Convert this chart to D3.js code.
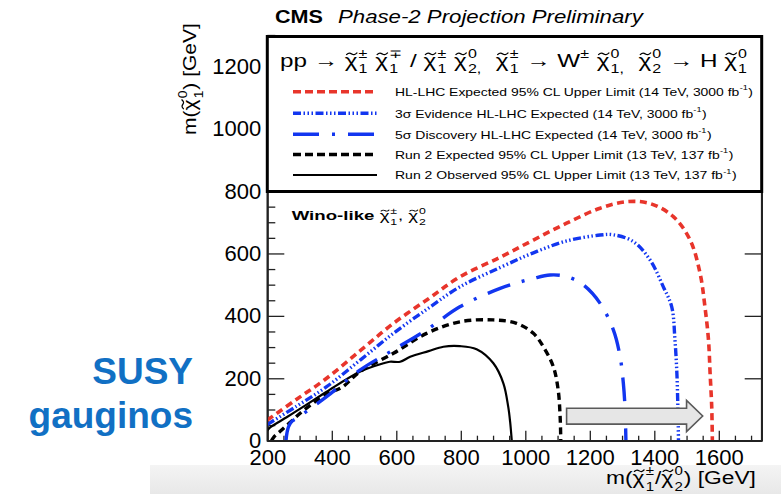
<!DOCTYPE html>
<html><head><meta charset="utf-8">
<script src="https://cdn.jsdelivr.net/npm/d3@7/dist/d3.min.js"></script>
<style>
body{margin:0;background:#fff}
svg{display:block}
text{font-family:"Liberation Sans",Arial,Helvetica,sans-serif;fill:#000;white-space:pre}
</style>
</head><body>
<svg id="chart" width="781" height="494"></svg>
<script>
// ---------------- data ----------------
const xTickValues = [200, 400, 600, 800, 1000, 1200, 1400, 1600];
const xTickLabels = ["200", "400", "600", "800", "1000", "1200", "1400", "1600"];
const yTickValues = [0, 200, 400, 600, 800, 1000, 1200];
const yTickLabels = ["0", "200", "400", "600", "800", "1000", "1200"];

// HL-LHC expected 95% CL (red dashed)
const hlX = [200, 290, 384, 490, 591, 700, 797, 922, 1025, 1128, 1232, 1314, 1387, 1459, 1511, 1542, 1557, 1568, 1573, 1578, 1580];
const hlY = [66, 132, 200, 290, 376, 455, 525, 588, 643, 697, 745, 766, 760, 718, 643, 536, 429, 323, 216, 109, 0];
// 3 sigma evidence (blue dash-dot-dot)
const ev3X = [200, 290, 384, 490, 591, 700, 797, 922, 1025, 1128, 1232, 1272, 1335, 1387, 1428, 1454, 1464, 1470, 1473, 1475];
const ev3Y = [52, 110, 173, 260, 344, 425, 493, 555, 602, 640, 659, 660, 638, 579, 493, 429, 323, 216, 109, 0];
// 5 sigma discovery (blue long dash-dot)
const dis5X = [258, 261, 266, 276, 291, 384, 487, 591, 694, 797, 922, 1025, 1077, 1128, 1180, 1232, 1273, 1294, 1304, 1309, 1312];
const dis5Y = [0, 25, 45, 62, 72, 141, 226, 291, 355, 429, 488, 520, 531, 526, 499, 440, 355, 269, 184, 109, 0];
// Run 2 expected (black dashed)
const expX = [213, 222, 240, 270, 310, 384, 430, 487, 591, 694, 797, 901, 973, 1025, 1056, 1087, 1102, 1108, 1110];
const expY = [0, 14, 30, 58, 95, 150, 170, 221, 280, 344, 381, 387, 376, 344, 301, 237, 162, 77, 0];
// Run 2 observed (black solid)
const obsX = [200, 208, 260, 312, 384, 487, 560, 580, 612, 643, 700, 746, 797, 849, 901, 932, 947, 953, 958];
const obsY = [32, 42, 75, 109, 157, 221, 248, 253, 253, 269, 287, 301, 303, 293, 248, 184, 109, 60, 0];

// projection arrow (annotation, in data units)
const arrowX = [1128, 1500, 1500, 1550, 1500, 1500, 1128];
const arrowY = [53, 53, 29, 79, 129, 104, 104];

const legendLabels = [
  "HL-LHC Expected 95% CL Upper Limit (14 TeV, 3000 fb",
  "3σ Evidence HL-LHC Expected (14 TeV, 3000 fb",
  "5σ Discovery HL-LHC Expected (14 TeV, 3000 fb",
  "Run 2 Expected 95% CL Upper Limit (13 TeV, 137 fb",
  "Run 2 Observed 95% CL Upper Limit (13 TeV, 137 fb"
];

// ---------------- layout ----------------
const svg = d3.select("#chart");
const L = 267.3, R = 761.7, T = 35, B = 440.7;
const x = d3.scaleLinear().domain([200, 1733]).range([L, R]);
const y = d3.scaleLinear().domain([0, 1300]).range([B, T]);

// rich text helper: parts are strings, {t,bold,italic}, {chi:true}, {sup,sub}
function rich(parent, parts, fs, base) {
  base = base || {};
  const g = parent.append("g");
  let cx = 0;
  parts.forEach(p => {
    if (typeof p === "string") p = {t: p};
    if (p.t !== undefined) {
      const t = g.append("text").attr("x", cx).attr("y", 0).attr("font-size", fs)
        .attr("xml:space", "preserve")
        .attr("font-weight", (p.bold ?? base.bold) ? "bold" : "normal")
        .attr("font-style", (p.italic ?? base.italic) ? "italic" : "normal")
        .text(p.t);
      cx += t.node().getComputedTextLength();
    } else if (p.chi) {
      const t = g.append("text").attr("x", cx).attr("y", 0).attr("font-size", fs).text("χ");
      const w = t.node().getComputedTextLength();
      const e = fs, tw = 0.42 * e, x0 = cx + w / 2 - tw / 2 + 0.03 * e, y0 = -0.66 * e;
      const tilde = d3.path();
      tilde.moveTo(x0, y0);
      tilde.bezierCurveTo(x0 + tw * 0.2, y0 - 0.11 * e, x0 + tw * 0.35, y0 - 0.08 * e, x0 + tw * 0.5, y0 - 0.03 * e);
      tilde.bezierCurveTo(x0 + tw * 0.65, y0 + 0.02 * e, x0 + tw * 0.8, y0 + 0.03 * e, x0 + tw, y0 - 0.08 * e);
      g.append("path").attr("d", tilde.toString()).attr("fill", "none").attr("stroke", "#000")
        .attr("stroke-width", 0.065 * e).attr("stroke-linecap", "round");
      cx += w + fs * 0.05;
    } else {
      let w = 0;
      if (p.sup !== undefined) {
        const t = g.append("text").attr("x", cx).attr("y", -fs * 0.48).attr("font-size", fs * 0.66).text(p.sup);
        w = Math.max(w, t.node().getComputedTextLength());
      }
      if (p.sub !== undefined) {
        const t = g.append("text").attr("x", cx).attr("y", fs * 0.36).attr("font-size", fs * 0.66).text(p.sub);
        w = Math.max(w, t.node().getComputedTextLength());
      }
      cx += w + fs * 0.04;
    }
  });
  return {g, width: cx};
}
function placeLeft(rt, x0, y0, target) {
  const sx = target ? target / rt.width : 1;
  rt.g.attr("transform", `translate(${x0},${y0}) scale(${sx},1)`);
}
function placeRight(rt, x1, y0, target) {
  const sx = target ? target / rt.width : 1;
  rt.g.attr("transform", `translate(${x1 - rt.width * sx},${y0}) scale(${sx},1)`);
}

// grey slide band at bottom
const defs = svg.append("defs");
const grad = defs.append("linearGradient").attr("id", "band").attr("x1", 0).attr("y1", 0).attr("x2", 0).attr("y2", 1);
grad.append("stop").attr("offset", 0).attr("stop-color", "#f4f4f4");
grad.append("stop").attr("offset", 1).attr("stop-color", "#e8e8e8");
svg.append("rect").attr("x", 150).attr("y", 465).attr("width", 631).attr("height", 29).attr("fill", "url(#band)");

defs.append("clipPath").attr("id", "plotclip").append("rect")
  .attr("x", L).attr("y", T).attr("width", R - L).attr("height", B - T);

// axes ticks
const axisCol = "#222";
const tickFs = 22;
const gx = svg.append("g").attr("transform", `translate(0,${B})`);
gx.call(d3.axisBottom(x).tickValues(d3.range(200, 1733, 50)).tickSize(-5).tickSizeOuter(0).tickFormat(""));
gx.call(g => g.selectAll(".tick").filter(d => d % 200 === 0).remove());
const gx2 = svg.append("g").attr("transform", `translate(0,${B})`);
gx2.call(d3.axisBottom(x).tickValues(xTickValues).tickSize(-10).tickSizeOuter(0).tickPadding(9)
  .tickFormat((d, i) => xTickLabels[i]));
gx2.selectAll("text").attr("font-size", tickFs).attr("fill", "#000");

const gy = svg.append("g").attr("transform", `translate(${L},0)`);
gy.call(d3.axisLeft(y).tickValues(d3.range(0, 1301, 50).filter(d => d % 200 !== 0)).tickSize(-8).tickSizeOuter(0).tickFormat(""));
const gy2 = svg.append("g").attr("transform", `translate(${L},0)`);
gy2.call(d3.axisLeft(y).tickValues(yTickValues).tickSize(-17).tickSizeOuter(0).tickPadding(6)
  .tickFormat((d, i) => yTickLabels[i]));
gy2.selectAll("text").attr("font-size", tickFs).attr("fill", "#000");

const gr = svg.append("g").attr("transform", `translate(${R},0)`);
gr.call(d3.axisRight(y).tickValues(d3.range(0, 1301, 50).filter(d => d % 200 !== 0)).tickSize(-8).tickSizeOuter(0).tickFormat(""));
gr.call(d3.axisRight(y).tickValues(yTickValues).tickSize(-17).tickSizeOuter(0).tickFormat(""));

svg.selectAll(".domain").attr("stroke", axisCol).attr("stroke-width", 1.6);
svg.selectAll(".tick line").attr("stroke", axisCol).attr("stroke-width", 1.3);

// curves
const plot = svg.append("g").attr("clip-path", "url(#plotclip)");
const line = d3.line().x(d => x(d[0])).y(d => y(d[1])).curve(d3.curveCatmullRom.alpha(0.5));
const series = [
  {xs: obsX, ys: obsY, color: "#000", w: 2.2, dash: null},
  {xs: expX, ys: expY, color: "#000", w: 3.4, dash: "7,4.5"},
  {xs: dis5X, ys: dis5Y, color: "#1236f0", w: 3.4, dash: "24,12,3,12"},
  {xs: ev3X, ys: ev3Y, color: "#1236f0", w: 3.4, dash: "8,2.5,1.5,2.5,1.5,2.5,1.5,2.5"},
  {xs: hlX, ys: hlY, color: "#e8352b", w: 3.6, dash: "7,4.5"}
];
series.forEach(s => {
  plot.append("path").datum(s.xs.map((v, i) => [v, s.ys[i]]))
    .attr("d", line).attr("fill", "none").attr("stroke", s.color)
    .attr("stroke-width", s.w).attr("stroke-dasharray", s.dash);
});

// arrow
svg.append("polygon")
  .attr("points", arrowX.map((v, i) => `${x(v)},${y(arrowY[i])}`).join(" "))
  .attr("fill", "#e6e6e6").attr("stroke", "#5a5a5a").attr("stroke-width", 1.6).attr("stroke-linejoin", "miter");

// frame lines (left, bottom, right)
svg.append("path").attr("d", `M${L},${T}V${B}H${R}V${T}`).attr("fill", "none").attr("stroke", axisCol).attr("stroke-width", 1.6);

// Wino-like label
const wino = rich(svg, [{t: "Wino-like ", bold: true}, {chi: true}, {sup: "±", sub: "1"}, ", ", {chi: true}, {sup: "0", sub: "2"}], 13.5);
placeLeft(wino, 291.7, 220, 135);

// legend box
svg.append("rect").attr("x", L).attr("y", 36.5).attr("width", R - L).attr("height", 191.5 - 36.5)
  .attr("fill", "#fff").attr("stroke", "#000").attr("stroke-width", 3);

const ltitle = rich(svg, ["pp → ", {chi: true}, {sup: "±", sub: "1"}, " ", {chi: true}, {sup: "∓", sub: "1"}, " / ",
  {chi: true}, {sup: "±", sub: "1"}, " ", {chi: true}, {sup: "0", sub: "2,"}, "  ", {chi: true}, {sup: "±", sub: "1"},
  " → W", {sup: "±"}, " ", {chi: true}, {sup: "0", sub: "1,"}, "  ", {chi: true}, {sup: "0", sub: "2"}, " → H ",
  {chi: true}, {sup: "0", sub: "1"}], 18.5);
placeLeft(ltitle, 280, 66.7, 468);

const legCenters = [91.7, 113.3, 134.3, 154.5, 175];
const legTargets = [358, 311.7, 316.7, 338.3, 341.7];
const legStyle = [series[4], series[3], series[2], series[1], series[0]];
legendLabels.forEach((lab, i) => {
  const s = legStyle[i];
  svg.append("line").attr("x1", 293).attr("x2", 377).attr("y1", legCenters[i]).attr("y2", legCenters[i])
    .attr("stroke", s.color).attr("stroke-width", s.w)
    .attr("stroke-dasharray", i === 2 ? "26,13,3,13" : (i === 0 || i === 3 ? "8,4" : s.dash));
  const rt = rich(svg, [lab, {sup: "-1"}, ")"], 11.8);
  placeLeft(rt, 395, legCenters[i] + 4.2, legTargets[i]);
});

// title
const cms = rich(svg, [{t: "CMS", bold: true}], 17.5);
placeLeft(cms, 275, 23, 48);
const ph = rich(svg, [{t: "Phase-2 Projection Preliminary", italic: true}], 17.5);
placeLeft(ph, 338, 23, 305);

// axis titles
const xt = rich(svg, ["m(", {chi: true}, {sup: "±", sub: "1"}, "/", {chi: true}, {sup: "0", sub: "2"}, ") [GeV]"], 19);
placeRight(xt, 756, 484, 150);
const yt = rich(svg, ["m(", {chi: true}, {sup: "0", sub: "1"}, ") [GeV]"], 19);
{
  const target = 112, sx = target / yt.width;
  yt.g.attr("transform", `translate(196,${23 + target}) rotate(-90) scale(${sx},1)`);
}

// SUSY gauginos
svg.append("text").attr("x", 193).attr("y", 383.5).attr("text-anchor", "end")
  .attr("font-size", 37).attr("font-weight", "bold").style("fill", "#1170c4").text("SUSY");
svg.append("text").attr("x", 193).attr("y", 428).attr("text-anchor", "end")
  .attr("font-size", 37).attr("font-weight", "bold").style("fill", "#1170c4").text("gauginos");
</script>
</body></html>
